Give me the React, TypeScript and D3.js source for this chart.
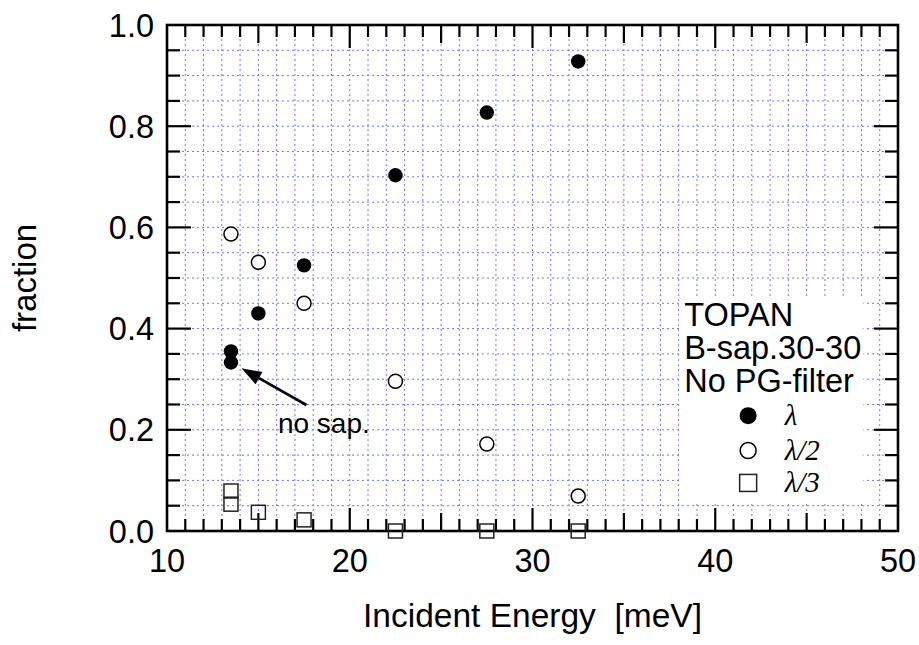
import * as d3 from 'd3';

const energyLambda = [13.5, 13.5, 15, 17.5, 22.5, 27.5, 32.5];
const fracLambda = [0.355, 0.333, 0.43, 0.525, 0.703, 0.827, 0.928];
const energyHalf = [13.5, 15, 17.5, 22.5, 27.5, 32.5];
const fracHalf = [0.587, 0.531, 0.45, 0.296, 0.172, 0.069];
const energyThird = [13.5, 13.5, 15, 17.5, 22.5, 27.5, 32.5];
const fracThird = [0.079, 0.053, 0.037, 0.022, 0, 0, 0];

const xTickLabels = [10, 20, 30, 40, 50];
const yTickLabels = [0, 0.2, 0.4, 0.6, 0.8, 1.0];
const legendLines = ['TOPAN', 'B-sap.30-30', 'No PG-filter'];

const width = 919;
const height = 645;
const margin = { top: 25, right: 21, bottom: 114, left: 167 };
const font = "'Liberation Sans', Arial, Helvetica, sans-serif";

export default function App() {
  const x = d3.scaleLinear().domain([10, 50]).range([margin.left, width - margin.right]);
  const y = d3.scaleLinear().domain([0, 1]).range([height - margin.bottom, margin.top]);
  const [x0, x1] = x.range();
  const [y0, y1] = y.range();

  const xMinor = d3.range(10, 50.01, 1);
  const yMinor = d3.range(0, 20.01, 1).map((i) => i * 0.05);

  const xTickLen = (v: number) => (v % 10 === 0 ? 23 : v % 5 === 0 ? 18 : 12);
  const yTickLen = (i: number) => (i % 4 === 0 ? 24 : 13);

  // legend box in data units
  const box = { xl: 38.02, xr: 48.1, yt: 0.462, yb: 0.057 };
  const legendX = x(38.3);
  const symX = x(41.8);
  const symTextX = x(43.8);
  const legendSyms = [
    { kind: 'filled', label: 'λ', y: 0.228 },
    { kind: 'open', label: 'λ/2', y: 0.159 },
    { kind: 'square', label: 'λ/3', y: 0.095 },
  ];

  // arrow annotation
  const arrow = { x1: 17.63, y1: 0.249, x2: 14.08, y2: 0.3215 };
  const ax1 = x(arrow.x1), ay1 = y(arrow.y1), ax2 = x(arrow.x2), ay2 = y(arrow.y2);
  const ang = Math.atan2(ay2 - ay1, ax2 - ax1);
  const hl = 20, hw = 7;
  const bx = ax2 - hl * Math.cos(ang), by = ay2 - hl * Math.sin(ang);
  const head = [
    [ax2, ay2],
    [bx + hw * Math.sin(ang), by - hw * Math.cos(ang)],
    [bx - hw * Math.sin(ang), by + hw * Math.cos(ang)],
  ];

  return (
    <div style={{ position: 'absolute', left: 0, top: 0 }}>
      <svg width={width} height={height} style={{ display: 'block', background: '#fff' }}>
        {/* grid */}
        <g stroke="#7373ff" strokeWidth={1} strokeDasharray="2,3">
          {xMinor.slice(1, -1).map((v) => (
            <line key={'gx' + v} x1={x(v)} x2={x(v)} y1={y0} y2={y1} />
          ))}
          {yMinor.slice(1, -1).map((v, i) => (
            <line key={'gy' + i} x1={x0} x2={x1} y1={y(v)} y2={y(v)} />
          ))}
        </g>

        {/* legend background */}
        <rect
          x={x(box.xl)}
          y={y(box.yt)}
          width={x(box.xr) - x(box.xl)}
          height={y(box.yb) - y(box.yt)}
          fill="#fff"
        />

        {/* ticks */}
        <g stroke="#000" strokeWidth={2.2}>
          {xMinor.slice(1, -1).map((v) => (
            <g key={'tx' + v}>
              <line x1={x(v)} x2={x(v)} y1={y0} y2={y0 - xTickLen(v)} />
              <line x1={x(v)} x2={x(v)} y1={y1} y2={y1 + xTickLen(v)} />
            </g>
          ))}
          {yMinor.slice(1, -1).map((v, i) => (
            <g key={'ty' + i}>
              <line x1={x0} x2={x0 + yTickLen(i + 1)} y1={y(v)} y2={y(v)} />
              <line x1={x1} x2={x1 - yTickLen(i + 1)} y1={y(v)} y2={y(v)} />
            </g>
          ))}
        </g>
        <rect x={x0} y={y1} width={x1 - x0} height={y0 - y1} fill="none" stroke="#000" strokeWidth={2.6} />

        {/* tick labels */}
        <g fontFamily={font} fontSize={32.5} fill="#000">
          {xTickLabels.map((v) => (
            <text key={'lx' + v} x={x(v)} y={y0 + 41} textAnchor="middle">
              {v}
            </text>
          ))}
          {yTickLabels.map((v) => (
            <text key={'ly' + v} x={x0 - 13} y={y(v) + 11.5} textAnchor="end">
              {v.toFixed(1)}
            </text>
          ))}
        </g>

        {/* axis titles */}
        <text x={(x0 + x1) / 2} y={627} textAnchor="middle" fontFamily={font} fontSize={33.5}>
          Incident Energy{'\u00a0\u00a0'}[meV]
        </text>
        <text
          transform={`translate(36,${(y0 + y1) / 2}) rotate(-90)`}
          textAnchor="middle"
          fontFamily={font}
          fontSize={33}
        >
          fraction
        </text>

        {/* data */}
        <g>
          {energyThird.map((e, i) => (
            <rect
              key={'s' + i}
              x={x(e) - 7}
              y={y(fracThird[i]) - 7}
              width={14}
              height={14}
              fill="none"
              stroke="#222"
              strokeWidth={1.5}
            />
          ))}
          {energyHalf.map((e, i) => (
            <circle key={'o' + i} cx={x(e)} cy={y(fracHalf[i])} r={7} fill="#fff" stroke="#000" strokeWidth={1.5} />
          ))}
          {energyLambda.map((e, i) => (
            <circle key={'f' + i} cx={x(e)} cy={y(fracLambda[i])} r={7.2} fill="#000" />
          ))}
        </g>

        {/* annotation */}
        <line x1={ax1} y1={ay1} x2={bx} y2={by} stroke="#000" strokeWidth={2.6} />
        <polygon points={head.map((p) => p.join(',')).join(' ')} fill="#000" />
        <text x={x(16.07)} y={y(0.194)} fontFamily={font} fontSize={28}>
          no sap.
        </text>

        {/* legend */}
        <g fontFamily={font} fontSize={32.5}>
          {legendLines.map((t, i) => (
            <text key={t} x={legendX} y={y(0.405) + i * 33}>
              {t}
            </text>
          ))}
        </g>
        {legendSyms.map((s) => (
          <g key={s.label}>
            {s.kind === 'filled' && <circle cx={symX} cy={y(s.y)} r={8.5} fill="#000" />}
            {s.kind === 'open' && <circle cx={symX} cy={y(s.y)} r={8} fill="#fff" stroke="#000" strokeWidth={1.5} />}
            {s.kind === 'square' && (
              <rect x={symX - 8.5} y={y(s.y) - 8.5} width={17} height={17} fill="none" stroke="#222" strokeWidth={1.5} />
            )}
            <text
              x={symTextX}
              y={y(s.y) + 9}
              fontFamily="'Liberation Serif', 'Times New Roman', serif"
              fontStyle="italic"
              fontSize={29}
            >
              {s.label}
            </text>
          </g>
        ))}
      </svg>
    </div>
  );
}
